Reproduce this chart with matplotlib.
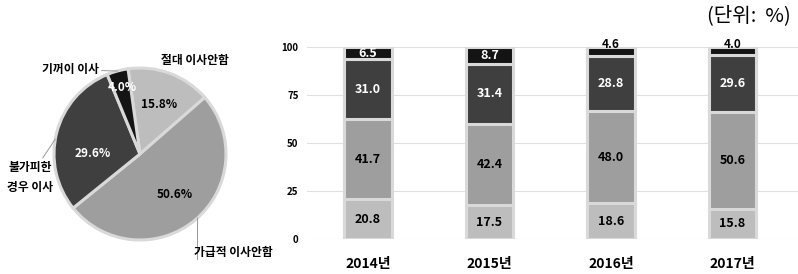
import numpy as np
import matplotlib
matplotlib.use("Agg")
import matplotlib.pyplot as plt

plt.rcParams['font.family'] = ['Noto Sans CJK KR', 'DejaVu Sans']

# pie (2017) data, clockwise from top
pie_labels = ['절대 이사안함', '가급적 이사안함', '불가피한\n경우 이사', '기꺼이 이사']
pie_values = [15.8, 50.6, 29.6, 4.0]

# stacked bars, bottom to top
years = ['2014년', '2015년', '2016년', '2017년']
never_move = [20.8, 17.5, 18.6, 15.8]
rather_not = [41.7, 42.4, 48.0, 50.6]
if_needed = [31.0, 31.4, 28.8, 29.6]
willing = [6.5, 8.7, 4.6, 4.0]

colors = ['#bdbdbd', '#9e9e9e', '#3f3f3f', '#141414']
edge = '#d9d9d9'

W, H = 798, 274
fig = plt.figure(figsize=(W / 100, H / 100), dpi=100)

def box(x0, y0, x1, y1):
    return [x0 / W, 1 - y1 / H, (x1 - x0) / W, (y1 - y0) / H]

# ---- pie ----
ax = fig.add_axes(box(54, 68, 226, 240))
start = 98
wedges, _, autotexts = ax.pie(pie_values, colors=colors, startangle=start, counterclock=False,
                              autopct=lambda p: f'{p:.1f}%', pctdistance=0.62,
                              wedgeprops=dict(edgecolor=edge, linewidth=2.2),
                              textprops=dict(fontsize=8.5, fontweight='bold'))
ax.set_xlim(-1, 1)
ax.set_ylim(-1, 1)
ax.set_aspect('equal')
for t, c in zip(autotexts, ['black', 'black', 'white', 'white']):
    t.set_color(c)
# move the small slice label outward
cum = np.cumsum([0] + pie_values)
mid = [np.radians(start - 3.6 * (cum[i] + cum[i + 1]) / 2) for i in range(4)]
autotexts[3].set_position((0.8 * np.cos(mid[3]), 0.8 * np.sin(mid[3])))
autotexts[2].set_position((0.62 * np.cos(mid[2]) + 0.05, 0.62 * np.sin(mid[2]) - 0.15))

lab_kw = dict(fontsize=8.5, fontweight='bold', annotation_clip=False)
line = dict(arrowstyle='-', color='#999999', lw=0.7, shrinkA=0, shrinkB=0)
ax.annotate(pie_labels[0], xy=(0.64, 1.09), ha='center', va='center', **lab_kw)
ax.annotate(pie_labels[3], xy=(np.cos(mid[3]), np.sin(mid[3])), xytext=(-0.81, 0.98),
            ha='center', va='center', arrowprops=line, **lab_kw)
a = np.radians(170)
ax.annotate(pie_labels[2], xy=(np.cos(a), np.sin(a)), xytext=(-1.28, -0.27),
            ha='center', va='center', linespacing=1.7, arrowprops=line, **lab_kw)
a = np.radians(-48)
ax.annotate('', xy=(np.cos(a), np.sin(a)), xytext=(np.cos(a), -1.23),
            arrowprops=line, annotation_clip=False)
ax.annotate(pie_labels[1], xy=(1.09, -1.14), ha='center', va='center', **lab_kw)

# ---- stacked bars ----
bx = fig.add_axes(box(307, 47, 798, 239))
x = np.arange(len(years))
bottom = np.zeros(len(years))
series = [never_move, rather_not, if_needed, willing]
txt_col = ['black', 'black', 'white', 'white']
for vals, col, tc in zip(series, colors, txt_col):
    vals = np.array(vals)
    bx.bar(x, vals, 0.39, bottom=bottom, color=col, edgecolor=edge, linewidth=2.2, zorder=3)
    for xi, b, v in zip(x, bottom, vals):
        if v < 6:
            bx.text(xi, 101.2, f'{v:.1f}', ha='center', va='center', fontsize=8.5,
                    fontweight='bold', color='black', zorder=4)
        else:
            bx.text(xi, b + v / 2, f'{v:.1f}', ha='center', va='center', fontsize=9,
                    fontweight='bold', color=tc, zorder=4)
    bottom += vals

bx.set_xlim(-0.503, 3.54)
bx.set_ylim(0, 100)
bx.set_yticks([0, 25, 50, 75, 100])
bx.grid(axis='y', color='#e0e0e0', lw=0.8, zorder=0)
bx.set_xticks(x)
bx.set_xticklabels(years, fontsize=10, fontweight='bold')
for s in bx.spines.values():
    s.set_visible(False)
bx.tick_params(axis='x', length=0, pad=13)
bx.tick_params(axis='y', length=0, pad=6, labelsize=7)
for t in bx.get_yticklabels():
    t.set_fontweight('bold')

fig.text(791 / W, 1 - 16 / H, '(단위:  %)', ha='right', va='center', fontsize=14.5)

fig.savefig('out.png', dpi=100)
